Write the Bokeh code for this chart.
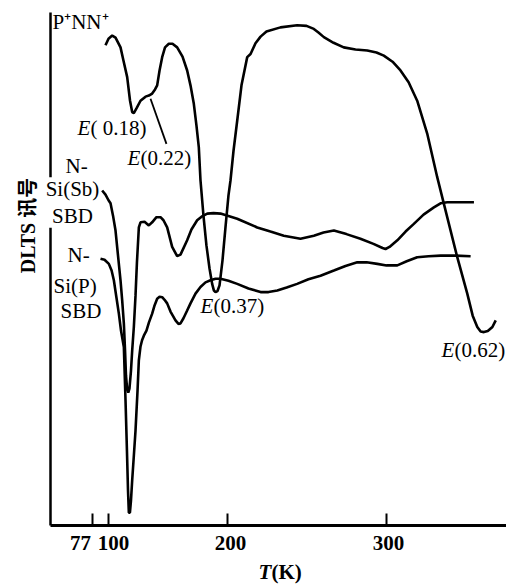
import numpy as np
from bokeh.plotting import figure
from bokeh.models import Range1d, FixedTicker, Label
from bokeh.embed import file_html
from bokeh.resources import INLINE

# ---------------- data ----------------
TICK_T = [77, 100, 200, 300]
TICK_LABELS = ["77", "100", "200", "300"]

# P+NN+ curve: temperature (K) and DLTS signal (arb. units)
PNN_T = [95.7, 100.0, 103.1, 105.9, 110.1, 112.6, 115.7, 118.1, 119.9, 121.3, 123.5, 126.9,
         131.1, 133.9, 136.7, 139.1, 140.9, 142.9, 145.1, 147.5, 150.7, 153.8, 157.7, 162.2,
         166.1, 168.9, 171.7, 173.9, 175.9, 177.3, 179.8, 182.3, 184.9, 187.1, 188.6, 189.9,
         191.6, 193.3, 195.8, 198.3, 200.6, 201.9, 203.8, 206.1, 208.8, 212.4, 214.5, 217.6,
         220.8, 224.5, 233.3, 243.8, 249.7, 254.3, 257.2, 260.6, 266.7, 273.1, 280.5, 287.9,
         293.7, 298.3, 303.8, 308.8, 313.9, 319.3, 325.6, 331.9, 336.1, 344.5, 350.8, 354.2,
         357.1, 359.2, 361.3, 363.7, 366.6, 368.7]
PNN_S = [93.6, 94.9, 95.5, 95.1, 93.2, 90.6, 87.4, 82.8, 80.6, 80.4, 81.3, 82.8,
         83.6, 83.8, 84.2, 85.0, 85.8, 88.7, 91.3, 93.2, 93.9, 93.9, 93.2, 91.4,
         88.7, 85.8, 82.2, 78.0, 73.7, 67.3, 60.4, 54.6, 50.1, 47.1, 45.8, 45.5,
         45.7, 46.8, 51.7, 58.1, 64.3, 67.3, 73.1, 78.9, 85.8, 91.3, 91.9, 94.0,
         95.3, 96.3, 97.1, 97.5, 97.4, 96.8, 96.1, 95.2, 94.1, 93.2, 92.8, 92.6,
         92.2, 91.6, 90.4, 88.7, 86.4, 82.8, 76.4, 67.9, 62.7, 52.3, 45.2, 40.9,
         38.7, 37.8, 37.7, 37.9, 38.7, 40.0]

# N-Si(Sb) SBD curve
SB_T = [90.9, 95.7, 100.0, 101.7, 103.8, 105.9, 108.0, 110.1, 111.5, 112.9, 113.9, 114.7,
        115.7, 116.6, 117.6, 118.9, 119.9, 121.3, 122.7, 123.9, 125.5, 126.9, 130.3, 133.9,
        136.7, 140.3, 143.7, 146.2, 149.3, 153.5, 157.7, 160.5, 166.1, 169.7, 174.5, 178.2,
        183.0, 188.3, 194.1, 206.1, 218.7, 227.0, 235.4, 245.9, 254.3, 260.4, 266.9, 274.8,
        283.6, 291.8, 297.5, 299.4, 301.9, 306.8, 312.0, 317.2, 323.3, 329.8, 334.0, 338.2,
        346.6, 355.0]
SB_S = [65.3, 64.5, 63.4, 62.8, 60.4, 57.5, 52.6, 47.8, 43.9, 39.4, 34.1, 29.2,
        26.5, 25.9, 26.7, 30.2, 34.1, 38.7, 44.8, 51.3, 58.1, 59.1, 59.2, 58.5,
        59.1, 60.1, 60.1, 59.5, 58.1, 54.3, 52.5, 52.8, 55.6, 57.7, 59.5, 60.2,
        60.8, 60.9, 60.8, 59.8, 58.1, 57.3, 56.5, 55.9, 56.5, 57.1, 57.5, 56.8,
        55.9, 54.9, 54.1, 53.9, 54.3, 55.6, 57.3, 58.8, 60.6, 62.0, 62.8, 63.0,
        63.0, 63.0]

# N-Si(P) SBD curve
P_T = [88.5, 94.3, 100.3, 102.6, 104.5, 106.7, 108.7, 110.5, 112.9, 114.3, 115.5, 116.4,
       117.1, 118.0, 118.9, 119.9, 121.3, 122.7, 124.4, 125.5, 126.9, 128.2, 129.7, 131.9,
       134.0, 136.7, 138.7, 140.9, 142.9, 145.1, 147.1, 149.3, 152.1, 156.3, 158.8, 160.5,
       163.0, 166.1, 168.9, 173.1, 177.3, 181.5, 185.7, 189.9, 194.1, 200.6, 206.1, 213.2,
       220.8, 225.8, 231.3, 237.2, 243.8, 250.9, 258.5, 266.9, 274.2, 281.6, 287.5, 294.2,
       300.0, 306.8, 312.7, 319.3, 326.5, 334.0, 343.5, 352.9]
P_S = [52.0, 51.8, 51.0, 49.7, 47.8, 44.4, 41.3, 38.0, 34.8, 24.4, 14.6, 6.8,
       2.5, 2.5, 4.9, 8.8, 13.6, 18.5, 26.3, 32.2, 34.9, 36.1, 37.0, 38.0,
       39.6, 41.3, 42.9, 44.2, 44.6, 44.5, 44.0, 43.3, 41.7, 40.0, 39.3, 39.4,
       40.4, 41.9, 43.3, 45.2, 46.5, 47.4, 47.8, 48.1, 48.1, 47.7, 47.1, 46.2,
       45.5, 45.5, 45.8, 46.4, 47.1, 48.0, 48.7, 49.7, 50.6, 51.3, 51.3, 51.0,
       50.7, 50.7, 51.5, 52.3, 52.5, 52.6, 52.6, 52.5]

# leader line for E(0.22)
LEADER_T = [135.3, 148.7]
LEADER_S = [83.2, 74.4]

# ---------------- layout ----------------
# the printed temperature axis is not uniform: calibrate tick positions
TICK_POS = [92, 108, 227, 386]


def t_to_pos(t):
    t = np.asarray(t, dtype=float)
    pos = np.interp(t, TICK_T, TICK_POS)
    hi = t > TICK_T[-1]
    pos[hi] = TICK_POS[-1] + (t[hi] - TICK_T[-1]) * (TICK_POS[-1] - TICK_POS[-2]) / (TICK_T[-1] - TICK_T[-2])
    lo = t < TICK_T[0]
    pos[lo] = TICK_POS[0] + (t[lo] - TICK_T[0]) * (TICK_POS[1] - TICK_POS[0]) / (TICK_T[1] - TICK_T[0])
    return pos


W, H = 506, 584
TOP, BOTTOM, LEFT = 12, 525, 50
SCALE = (BOTTOM - TOP) / 100.0


def yy(py):
    return (BOTTOM - py) / SCALE


FONT = "Liberation Serif"
FS = "21px"

p = figure(width=W, height=H, output_backend="svg", toolbar_location=None,
           x_range=Range1d(0, W), y_range=Range1d(yy(H), yy(0)),
           min_border=0)
p.outline_line_color = None
p.grid.visible = False
p.background_fill_color = "white"
p.border_fill_color = "white"

xa = p.xaxis[0]
xa.fixed_location = 0
xa.bounds = (LEFT, W)
xa.ticker = FixedTicker(ticks=TICK_POS)
xa.major_label_overrides = {k: "" for k in TICK_POS}
xa.major_label_standoff = 0
xa.major_label_text_font_size = "1px"
xa.major_tick_in = 12
xa.major_tick_out = 0
xa.major_tick_line_width = 2
xa.minor_tick_line_color = None
xa.axis_line_width = 3

ya = p.yaxis[0]
ya.fixed_location = LEFT
ya.bounds = (0, yy(TOP))
ya.ticker = FixedTicker(ticks=[])
ya.major_tick_line_color = None
ya.minor_tick_line_color = None
ya.major_label_standoff = 0
ya.major_label_text_font_size = "1px"
ya.axis_line_width = 2.5

LW = 2.6
p.line(t_to_pos(PNN_T), PNN_S, line_color="black", line_width=LW)
p.line(t_to_pos(SB_T), SB_S, line_color="black", line_width=LW)
p.line(t_to_pos(P_T), P_S, line_color="black", line_width=LW)
p.line(t_to_pos(LEADER_T), LEADER_S, line_color="black", line_width=1.8)


def lab(text, px, py, align="left", style="normal", size=FS, bg=None, angle=0.0, font=FONT):
    p.add_layout(Label(x=px, y=yy(py), text=text, text_align=align, text_baseline="middle",
                       text_font=font, text_font_size=size, text_font_style=style,
                       text_color="black", angle=angle,
                       background_fill_color=bg, text_line_height=1.1))


lab("P\u207aNN\u207a", 52, 21)
lab("E", 77, 127, style="italic")
lab("( 0.18)", 90, 127)
lab("E", 127, 157, style="italic")
lab("(0.22)", 140, 157)
lab("N-", 65, 165)
lab("Si(Sb)\nSBD", 72, 202, align="center", bg="white")
lab("N-", 67, 254)
lab("Si(P)", 53, 285)
lab("SBD", 60, 310)
lab("E", 200, 305, style="italic")
lab("(0.37)", 213, 305)
lab("E", 441, 349, style="italic")
lab("(0.62)", 454, 349)

TICK_LABEL_POS = [80, 113, 230, 388]
for t, px in zip(TICK_LABELS, TICK_LABEL_POS):
    lab(t, px, 542, align="center", style="bold")

lab("T", 258, 571, style="bold italic")
lab("(K)", 271, 571, style="bold")
lab("DLTS \u8baf\u53f7", 27, 225, align="center", style="bold", size="20px",
    angle=np.pi / 2, font="Liberation Serif, Noto Sans CJK SC")

open("out.html", "w").write(file_html(p, INLINE))
